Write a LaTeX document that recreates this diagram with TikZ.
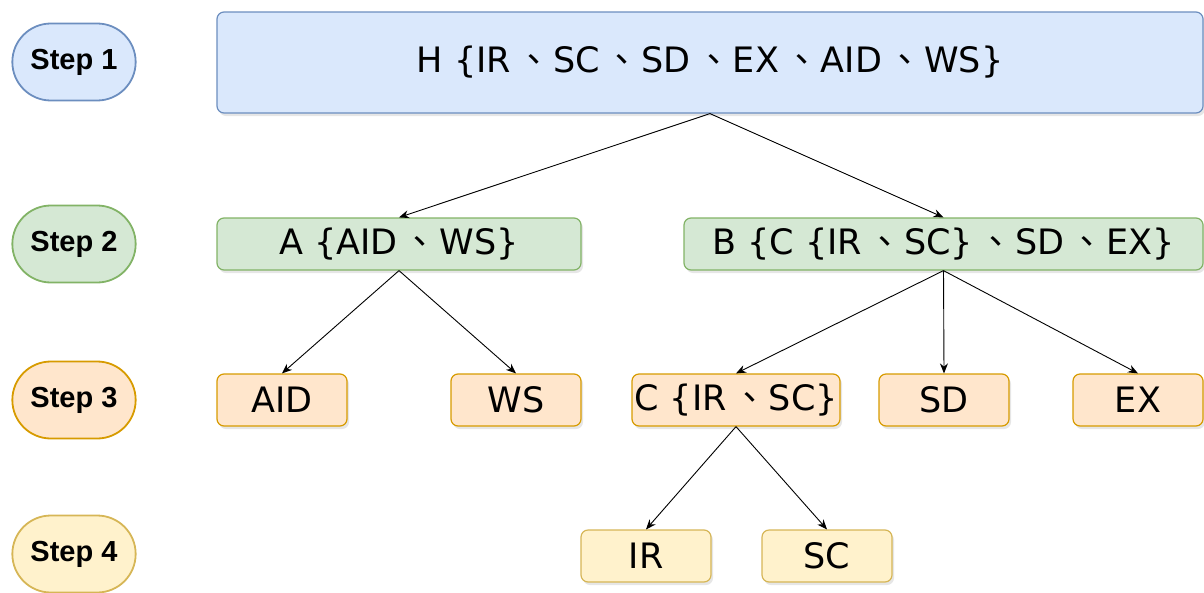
\documentclass[tikz,border=0pt]{standalone}
\usepackage{fontspec}
\setmainfont{DejaVu Sans}
\newfontfamily\stepfont{Liberation Sans}
\newfontfamily\cjk{Noto Sans CJK TC}
\usetikzlibrary{arrows.meta,shadows,shapes.misc}

\definecolor{blueF}{HTML}{DAE8FC}\definecolor{blueD}{HTML}{6C8EBF}
\definecolor{greenF}{HTML}{D5E8D4}\definecolor{greenD}{HTML}{82B366}
\definecolor{orangeF}{HTML}{FFE6CC}\definecolor{orangeD}{HTML}{D79B00}
\definecolor{yellowF}{HTML}{FFF2CC}\definecolor{yellowD}{HTML}{D6B656}

\newcommand{\dun}{\hspace{0.15em}{\cjk 、}\hspace{0.05em}}

\begin{document}
\begin{tikzpicture}[x=1pt,y=-1pt,
					step label/.style={draw=#1D, fill=#1F, line width=1.8pt, rounded rectangle,
						minimum width=130pt, minimum height=77pt, font=\stepfont\bfseries\fontsize{29}{31}\selectfont},
					set box/.style={draw=#1D, fill=#1F, line width=1.2pt, rounded corners=7pt,
						inner sep=0pt, font=\fontsize{35}{38}\selectfont,
						drop shadow={shadow xshift=2pt, shadow yshift=-3pt, opacity=0.2}},
					edge/.style={-{Stealth[length=10pt,width=8pt]}, line width=0.9pt},
				]
					\useasboundingbox (0,0) rectangle (1204,592);
					
					% step labels on the left
					\foreach \s/\c/\y in {1/blue/62, 2/green/244, 3/orange/400, 4/yellow/554}
						\node[step label=\c] (step\s) at (74,\y) {Step \s};
					
					% step 1
					\node[set box=blue, minimum width=986pt, minimum height=101pt] (H) at (710,62.5)
						{H \{IR\dun SC\dun SD\dun EX\dun AID\dun WS\}};
					
					% step 2
					\node[set box=green, minimum width=364pt, minimum height=52pt] (A) at (399,244)
						{A \{AID\dun WS\}};
					\node[set box=green, minimum width=519pt, minimum height=52pt] (B) at (943.5,244)
						{B \{C \{IR\dun SC\}\dun SD\dun EX\}};
					
					% step 3
					\node[set box=orange, minimum width=130pt, minimum height=52pt] (AID) at (282,400) {AID};
					\node[set box=orange, minimum width=130pt, minimum height=52pt] (WS) at (516,400) {WS};
					\node[set box=orange, minimum width=208pt, minimum height=52pt] (C) at (736,400) {C \{IR\dun SC\}};
					\node[set box=orange, minimum width=130pt, minimum height=52pt] (SD) at (944,400) {SD};
					\node[set box=orange, minimum width=130pt, minimum height=52pt] (EX) at (1138,400) {EX};
					
					% step 4
					\node[set box=yellow, minimum width=130pt, minimum height=52pt] (IR) at (646,556) {IR};
					\node[set box=yellow, minimum width=130pt, minimum height=52pt] (SC) at (827,556) {SC};
					
					% splitting
					\draw[edge] (H.south) -- (A.north);
					\draw[edge] (H.south) -- (B.north);
					\draw[edge] (A.south) -- (AID.north);
					\draw[edge] (A.south) -- (WS.north);
					\draw[edge] (B.south) -- (C.north);
					\draw[edge] (B.south) -- (SD.north);
					\draw[edge] (B.south) -- (EX.north);
					\draw[edge] (C.south) -- (IR.north);
					\draw[edge] (C.south) -- (SC.north);
				\end{tikzpicture}
\end{document}
